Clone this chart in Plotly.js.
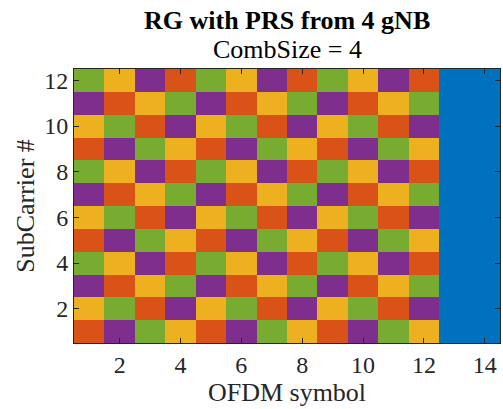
<!DOCTYPE html>
<html>
<head>
<meta charset="utf-8">
<script src="https://cdn.plot.ly/plotly-3.0.1.min.js"></script>
<style>html,body{margin:0;padding:0;background:#fff;}#chart{width:503px;height:409px;}</style>
</head>
<body>
<div id="chart"></div>
<script>
// OFDM symbols (columns) and subcarriers (rows)
const symbols = [1,2,3,4,5,6,7,8,9,10,11,12,13,14];
const subcarriers = [1,2,3,4,5,6,7,8,9,10,11,12];
// Cell owner per subcarrier row (bottom row first)
// B = empty (blue), O = orange, P = purple, G = green, Y = yellow
const gridRows = [
  "OPGYOPGYOPGYBB",
  "YGOPYGOPYGOPBB",
  "POYGPOYGPOYGBB",
  "GYPOGYPOGYPOBB",
  "OPGYOPGYOPGYBB",
  "YGOPYGOPYGOPBB",
  "POYGPOYGPOYGBB",
  "GYPOGYPOGYPOBB",
  "OPGYOPGYOPGYBB",
  "YGOPYGOPYGOPBB",
  "POYGPOYGPOYGBB",
  "GYPOGYPOGYPOBB"
];
const codeOf = {B:0, O:1, P:2, G:3, Y:4};
const cellColors = ["#0072BD","#D95319","#7E2F8E","#77AC30","#EDB120"];
const xTicks = [2,4,6,8,10,12,14];
const yTicks = [2,4,6,8,10,12];

const z = gridRows.map(r => r.split("").map(c => codeOf[c]));
const n = cellColors.length;
const colorscale = [];
cellColors.forEach((c,i) => {
  colorscale.push([i/n, c]);
  colorscale.push([(i+1)/n, c]);
});

const serif = "Liberation Serif, Times New Roman, serif";
const axisFont = {family:serif, size:24, color:"#262626"};
const titleFont = {family:serif, size:26, color:"#262626"};

const trace = {
  type:"heatmap",
  x: symbols, y: subcarriers, z: z,
  zmin: -0.5, zmax: n-0.5,
  colorscale: colorscale,
  showscale: false,
  hoverinfo: "skip"
};

const layout = {
  width:503, height:409,
  margin:{l:74, r:3, t:69, b:66},
  paper_bgcolor:"#fff", plot_bgcolor:"#fff",
  xaxis:{
    range:[0.5,14.5], tickvals:xTicks, ticks:"inside", ticklen:5, tickcolor:"#262626",
    showline:true, linecolor:"#262626", linewidth:1, mirror:"ticks",
    showgrid:false, zeroline:false, tickfont:axisFont,
    title:{text:"OFDM symbol", font:titleFont, standoff:0}
  },
  yaxis:{
    range:[0.5,12.5], tickvals:yTicks, ticks:"inside", ticklen:5, tickcolor:"#262626",
    showline:true, linecolor:"#262626", linewidth:1, mirror:"ticks",
    showgrid:false, zeroline:false, tickfont:axisFont,
    title:{text:"SubCarrier #", font:titleFont, standoff:2}
  },
  annotations:[
    {text:"<b>RG with PRS from 4 gNB</b>", xref:"paper", yref:"paper", x:0.5, y:1, yshift:49,
     xanchor:"center", yanchor:"middle", showarrow:false,
     font:{family:serif, size:26, color:"#000"}},
    {text:"CombSize = 4", xref:"paper", yref:"paper", x:0.5, y:1, yshift:20,
     xanchor:"center", yanchor:"middle", showarrow:false,
     font:{family:serif, size:26, color:"#000"}}
  ]
};

Plotly.newPlot("chart", [trace], layout, {staticPlot:true, displayModeBar:false});
</script>
</body>
</html>
